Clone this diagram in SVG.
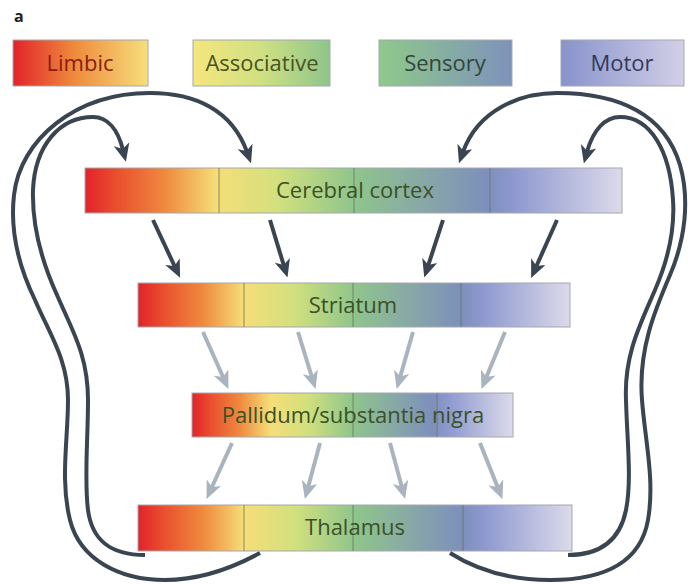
<svg xmlns="http://www.w3.org/2000/svg" width="688" height="584" viewBox="0 0 688 584">
<defs>
<style>
.bar{stroke:#a4a8b0;stroke-width:1}
.div{stroke:#6d7366;stroke-width:1;opacity:0.8}
.lbl{font-family:"Open Sans","Noto Sans",sans-serif;font-size:22px;text-anchor:middle}
.btxt{fill:#3a5128}
.dark{fill:none;stroke:#3a4551;stroke-width:4}
.gray{fill:none;stroke:#a9b4bf;stroke-width:4}
</style>
<linearGradient id="gBar" x1="0" y1="0" x2="1" y2="0">
<stop offset="0" stop-color="#e3222a"/>
<stop offset="0.06" stop-color="#e9502e"/>
<stop offset="0.15" stop-color="#ef8a3e"/>
<stop offset="0.245" stop-color="#f5de78"/>
<stop offset="0.36" stop-color="#d2e07e"/>
<stop offset="0.5" stop-color="#8fc58b"/>
<stop offset="0.62" stop-color="#88aaa4"/>
<stop offset="0.75" stop-color="#7d8fbc"/>
<stop offset="0.8" stop-color="#8e99cf"/>
<stop offset="1" stop-color="#dcdaea"/>
</linearGradient>
<linearGradient id="gLim" x1="0" y1="0" x2="1" y2="0">
<stop offset="0" stop-color="#e3222a"/>
<stop offset="0.45" stop-color="#ee8a3c"/>
<stop offset="1" stop-color="#f7df7c"/>
</linearGradient>
<linearGradient id="gAss" x1="0" y1="0" x2="1" y2="0">
<stop offset="0" stop-color="#f5e67c"/>
<stop offset="0.5" stop-color="#cfe083"/>
<stop offset="1" stop-color="#8ec58b"/>
</linearGradient>
<linearGradient id="gSen" x1="0" y1="0" x2="1" y2="0">
<stop offset="0" stop-color="#8ec98a"/>
<stop offset="1" stop-color="#7e92bb"/>
</linearGradient>
<linearGradient id="gMot" x1="0" y1="0" x2="1" y2="0">
<stop offset="0" stop-color="#8893cb"/>
<stop offset="1" stop-color="#d2cfe7"/>
</linearGradient>
<marker id="aDark" markerUnits="userSpaceOnUse" markerWidth="18" markerHeight="16" viewBox="0 0 18 16" refX="6" refY="8" orient="auto">
<path d="M0,0 L18,8 L0,16 L5,8 Z" fill="#3a4551"/>
</marker>
<marker id="aGray" markerUnits="userSpaceOnUse" markerWidth="18" markerHeight="16" viewBox="0 0 18 16" refX="6" refY="8" orient="auto">
<path d="M0,0 L18,8 L0,16 L5,8 Z" fill="#a9b4bf"/>
</marker>
</defs>
<rect width="688" height="584" fill="#ffffff"/>
<text x="14" y="22" font-family="'Open Sans','Noto Sans',sans-serif" font-size="16" font-weight="bold" fill="#222">a</text>

<g id="legend-limbic">
<rect x="13" y="40" width="135" height="46" fill="url(#gLim)" class="bar"/>
<text x="80" y="71" class="lbl" fill="#8a1c12">Limbic</text>
</g>
<g id="legend-associative">
<rect x="193" y="40" width="137" height="46" fill="url(#gAss)" class="bar"/>
<text x="262" y="71" class="lbl" fill="#4a5222">Associative</text>
</g>
<g id="legend-sensory">
<rect x="379" y="40" width="133" height="46" fill="url(#gSen)" class="bar"/>
<text x="445" y="71" class="lbl" fill="#34453a">Sensory</text>
</g>
<g id="legend-motor">
<rect x="561" y="40" width="123" height="46" fill="url(#gMot)" class="bar"/>
<text x="622" y="71" class="lbl" fill="#333a58">Motor</text>
</g>

<g id="cortex">
<rect x="85" y="168" width="537" height="45" fill="url(#gBar)" class="bar"/>
<line x1="219" y1="168" x2="219" y2="213" class="div"/>
<line x1="354" y1="168" x2="354" y2="213" class="div"/>
<line x1="490" y1="168" x2="490" y2="213" class="div"/>
<text x="355" y="198" class="lbl btxt">Cerebral cortex</text>
</g>
<g id="striatum">
<rect x="138" y="283" width="432" height="44" fill="url(#gBar)" class="bar"/>
<line x1="244" y1="283" x2="244" y2="327" class="div"/>
<line x1="353" y1="283" x2="353" y2="327" class="div"/>
<line x1="461" y1="283" x2="461" y2="327" class="div"/>
<text x="353" y="313" class="lbl btxt">Striatum</text>
</g>
<g id="pallidum">
<rect x="192" y="393" width="321" height="44" fill="url(#gBar)" class="bar"/>
<line x1="353" y1="393" x2="353" y2="437" class="div"/>
<line x1="437" y1="393" x2="437" y2="437" class="div"/>
<text x="353" y="423" class="lbl btxt">Pallidum/substantia nigra</text>
</g>
<g id="thalamus">
<rect x="138" y="505" width="434" height="46" fill="url(#gBar)" class="bar"/>
<line x1="244" y1="505" x2="244" y2="551" class="div"/>
<line x1="353" y1="505" x2="353" y2="551" class="div"/>
<line x1="463" y1="505" x2="463" y2="551" class="div"/>
<text x="355" y="535" class="lbl btxt">Thalamus</text>
</g>

<g id="connectors">
<path class="dark" marker-end="url(#aDark)" d="M153,220 L175,267"/>
<path class="dark" marker-end="url(#aDark)" d="M270,220 L284,266"/>
<path class="dark" marker-end="url(#aDark)" d="M443,220 L428,266"/>
<path class="dark" marker-end="url(#aDark)" d="M557,220 L536,267"/>

<path class="gray" marker-end="url(#aGray)" d="M203,332 L223.5,378"/>
<path class="gray" marker-end="url(#aGray)" d="M298,332 L312,377.5"/>
<path class="gray" marker-end="url(#aGray)" d="M413,332 L400,377.5"/>
<path class="gray" marker-end="url(#aGray)" d="M505,332 L486,378"/>

<path class="gray" marker-end="url(#aGray)" d="M232,443 L211.5,488"/>
<path class="gray" marker-end="url(#aGray)" d="M320,443 L308,487.5"/>
<path class="gray" marker-end="url(#aGray)" d="M390,443 L402,487.5"/>
<path class="gray" marker-end="url(#aGray)" d="M480,443 L498,488"/>

<path class="dark" marker-end="url(#aDark)" d="M260,553 C225,572 195,580 165,580 C120,580 80,560 70,520 C60,480 68,440 68,400 C68,360 50,335 35,300 C18,265 10,230 14,195 C20,140 75,93 150,93 C195,93 232,110 247,152"/>
<path class="dark" marker-end="url(#aDark)" d="M145,555 C110,555 92,540 88,510 C84,480 88,440 88,400 C88,355 72,330 57,295 C42,262 32,225 33,190 C35,145 60,117 93,117 C108,117 118,130 123,150"/>
<path class="dark" marker-end="url(#aDark)" d="M450,553 C480,572 515,580 550,580 C600,580 640,565 648,520 C655,480 645,440 642,400 C638,350 655,310 670,275 C685,240 690,200 680,165 C665,115 620,93 557,93 C520,93 478,110 463,152"/>
<path class="dark" marker-end="url(#aDark)" d="M568,555 C600,555 620,540 626,510 C632,480 627,440 626,400 C624,355 640,325 655,290 C668,260 675,230 673,200 C670,150 650,117 620,117 C605,117 593,130 587,152"/>
</g>
</svg>
